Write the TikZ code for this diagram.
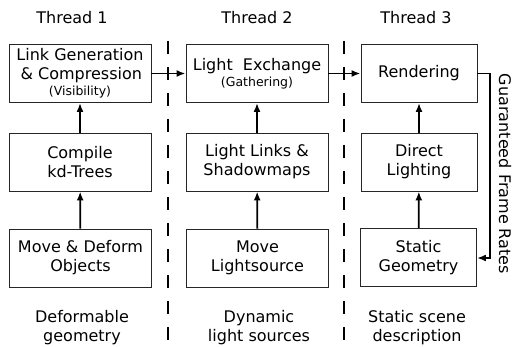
\documentclass[tikz,border=0pt]{standalone}
\usepackage{fontspec}
\setmainfont{DejaVu Sans}
\usetikzlibrary{arrows.meta}
\begin{document}
\begin{tikzpicture}[x=1pt,y=-1pt,
  stage/.style={draw=black!85,line width=0.9pt,minimum height=58pt,align=center,
    inner sep=0pt,font=\fontsize{16}{19}\selectfont},
  wide/.style={minimum width=142pt},
  narrow/.style={minimum width=116pt},
  flow/.style={line width=1.8pt,-{Latex[length=9pt,width=7pt]}},
  sep/.style={line width=1.8pt,dash pattern=on 13pt off 13pt},
  lbl/.style={align=center,font=\fontsize{16}{19}\selectfont},
  smalltext/.style={font=\fontsize{12.5}{14}\selectfont}]
\useasboundingbox (0,0) rectangle (513,347);

% thread separators
\draw[sep] (168,41) -- (168,347);
\draw[sep] (344,41) -- (344,347);

% column headers
\node[lbl] (h1) at (72,18) {Thread 1};
\node[lbl] (h2) at (257,18) {Thread 2};
\node[lbl] (h3) at (416,18) {Thread 3};

% thread 1
\node[stage,wide] (a1) at (80,73.5) {Link Generation\\\,\& Compression\\[-3pt]{\fontsize{12.5}{14}\selectfont (Visibility)}};
\node[stage,wide] (a2) at (80,162) {Compile\\kd-Trees};
\node[stage,wide] (a3) at (80.5,258) {Move \& Deform\\Objects};

% thread 2
\node[stage,wide] (b1) at (257,73.5) {Light\ \ Exchange\\[-3pt]{\fontsize{12.5}{14}\selectfont (Gathering)}};
\node[stage,wide] (b2) at (257,162) {Light Links \&\\Shadowmaps};
\node[stage,wide] (b3) at (257.5,258) {Move\\Lightsource};

% thread 3
\node[stage,narrow] (c1) at (419,73.5) {Rendering};
\node[stage,narrow] (c2) at (419,162) {Direct\\Lighting};
\node[stage,narrow] (c3) at (418.5,257.5) {Static\\Geometry};

% bottom captions
\node[lbl] (d1) at (82,328) {Deformable\\geometry};
\node[lbl] (d2) at (259,328) {Dynamic\\light sources};
\node[lbl] (d3) at (417,328) {Static scene\\description};

% data flow
\draw[flow] (a3) -- (a2);
\draw[flow] (a2) -- (a1);
\draw[flow] (b3) -- (b2);
\draw[flow] (b2) -- (b1);
\draw[flow] (c3) -- (c2);
\draw[flow] (c2) -- (c1);
\draw[flow] (a1) -- (b1);
\draw[flow] (b1) -- (c1);

% feedback loop
\coordinate (r1) at (490,73.5);
\coordinate (r2) at (490,258);
\draw[flow] (c1.east) -- (r1) -- (r2) -- (c3.east |- r2);
\node[lbl,rotate=-90] (gfr) at (505,174) {Guaranteed Frame Rates};
\end{tikzpicture}
\end{document}
